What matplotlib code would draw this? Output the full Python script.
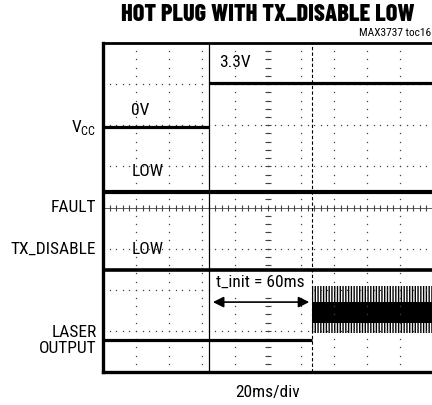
import numpy as np
import matplotlib
matplotlib.use('Agg')
import matplotlib.pyplot as plt

plt.rcParams['font.family'] = ['Roboto Condensed', 'Archivo Narrow', 'Barlow Condensed', 'DejaVu Sans']

# scope traces, in divisions (10 x 8 screen)
vcc_off_t = [0, 3.22]
vcc_off_div = [5.95, 5.95]
vcc_on_t = [3.22, 10]
vcc_on_div = [7.03, 7.03]
fault_t = [0, 10]
fault_div = [4.38, 4.38]
txdis_t = [0, 10]
txdis_div = [2.48, 2.48]
laser_low_t = [0, 6.32]
laser_low_div = [0.78, 0.78]
laser_on_t = [6.32, 10]
laser_core_lo = [1.19, 1.19]
laser_core_hi = [1.70, 1.70]
laser_spike_lo = [0.95, 0.95]
laser_spike_hi = [2.10, 2.10]

t_power = 3.22      # hot plug instant
t_ready = 6.32      # laser enabled
t_init_label = "t_init = 60ms"

fig = plt.figure(figsize=(4.32, 4.05), dpi=100)
ax = fig.add_axes([103 / 432, 33 / 405, 330 / 432, 329 / 405])
ax.set_xlim(0, 10)
ax.set_ylim(0, 8)
ax.set_xticks([])
ax.set_yticks([])

# graticule
dot = '#444444'
for gx in range(1, 10):
    ys = np.arange(0, 8.01, 0.2)
    ax.plot([gx] * len(ys), ys, ls='none', marker='s', ms=0.9, color=dot, mew=0)
for gy in range(1, 8):
    xs = np.arange(0, 10.01, 0.2)
    ax.plot(xs, [gy] * len(xs), ls='none', marker='s', ms=0.9, color=dot, mew=0)
# centre axes with minor ticks
ys = np.arange(0, 8.01, 0.2)
ax.plot([5] * len(ys), ys, ls='none', marker='_', ms=5, mew=0.8, color=dot)
xs = np.arange(0, 10.01, 0.2)
ax.plot(xs, [4] * len(xs), ls='none', marker='|', ms=5, mew=0.8, color=dot)
ax.axhline(4, color=dot, lw=0.6)

# cursors
ax.axvline(t_power, color='black', lw=0.9)
ax.axvline(t_ready, color='black', lw=0.8, ls=(0, (3, 2)))

# traces
ax.plot(vcc_off_t, vcc_off_div, color='black', lw=2.3, solid_capstyle='butt')
ax.plot(vcc_on_t, vcc_on_div, color='black', lw=2.3, solid_capstyle='butt')
ax.plot(fault_t, fault_div, color='black', lw=3.0)
ax.plot(txdis_t, txdis_div, color='black', lw=2.6)
ax.plot(laser_low_t, laser_low_div, color='black', lw=2.3, solid_capstyle='butt')
ax.fill_between(laser_on_t, laser_spike_lo, laser_spike_hi, facecolor='none',
                edgecolor='black', hatch='||||||', lw=0)
ax.fill_between(laser_on_t, laser_core_lo, laser_core_hi, color='black', lw=0)

# t_init annotation
ax.add_patch(plt.Rectangle((3.33, 1.85), 2.95, 0.57, facecolor='white',
                           edgecolor='none', zorder=3))
ax.text(4.77, 2.17, t_init_label, ha='center', va='center', fontsize=12.5, zorder=4)
ax.annotate('', xy=(6.25, 1.70), xytext=(3.33, 1.70),
            arrowprops=dict(arrowstyle='<|-|>', color='black', lw=1.2,
                            mutation_scale=16, shrinkA=0, shrinkB=0), zorder=4)

# in-screen labels
ax.text(1.12, 6.37, '0V', ha='center', va='center', fontsize=12.5)
ax.text(4.01, 7.52, '3.3V', ha='center', va='center', fontsize=12.5)
ax.text(1.34, 4.87, 'LOW', ha='center', va='center', fontsize=12.5)
ax.text(1.34, 2.97, 'LOW', ha='center', va='center', fontsize=12.5)

# channel names
lx = -0.2
ax.text(lx, 5.94, 'V$_{\\mathregular{CC}}$', ha='right', va='center', fontsize=12.5, clip_on=False)
ax.text(lx, 4.01, 'FAULT', ha='right', va='center', fontsize=12.5, clip_on=False)
ax.text(lx, 2.99, 'TX_DISABLE', ha='right', va='center', fontsize=12.5, clip_on=False)
ax.text(lx, 0.97, 'LASER', ha='right', va='center', fontsize=12.5, clip_on=False)
ax.text(lx, 0.58, 'OUTPUT', ha='right', va='center', fontsize=12.5, clip_on=False)

for side in ['left', 'bottom']:
    ax.spines[side].set_linewidth(2.4)
ax.spines['top'].set_linewidth(2.0)
ax.spines['right'].set_visible(False)

fig.text(268 / 432, 1 - 15 / 405, 'HOT PLUG WITH TX_DISABLE LOW', ha='center',
         va='center', fontsize=17.5, fontweight='heavy',
         family=['Barlow Condensed', 'Roboto Condensed', 'DejaVu Sans'])
fig.text(431 / 432, 1 - 33 / 405, 'MAX3737 toc16', ha='right', va='center', fontsize=8.2)
fig.text(268 / 432, 1 - 393 / 405, '20ms/div', ha='center', va='center', fontsize=12.5)

fig.savefig('out.png', dpi=100)
